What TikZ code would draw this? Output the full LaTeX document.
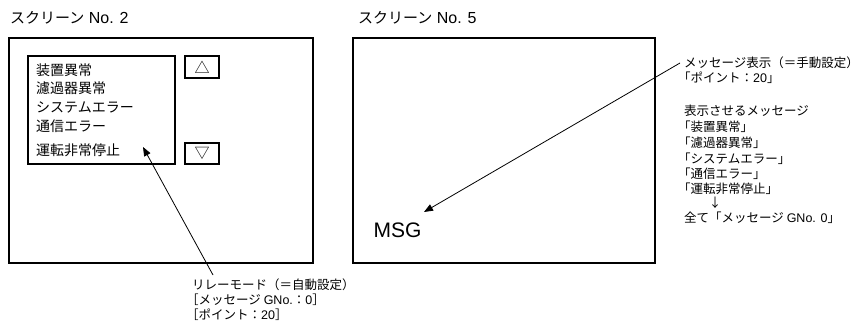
\documentclass[tikz,border=0pt]{standalone}
\usepackage{fontspec}
\setmainfont{Liberation Sans}
\newfontfamily\jp{Noto Sans CJK JP}
\usetikzlibrary{arrows.meta}
\begin{document}
\begin{tikzpicture}[x=1pt,y=-1pt,
  box/.style={draw, line width=1.8pt, inner sep=0pt, outer sep=0pt},
  t/.style={inner sep=0pt, anchor=base west},
  ttl/.style={t, font=\fontsize{16}{16}\selectfont},
  jl/.style={t, font=\fontsize{14}{14}\selectfont\jp},
  note/.style={t, font=\fontsize{12.5}{12.5}\selectfont},
  btnmark/.style={font=\fontsize{15}{15}\selectfont\jp},
  arr/.style={line width=0.8pt, -{Triangle[length=9pt,width=7pt]}}]
\useasboundingbox (0,0) rectangle (862,326);

% titles
\node[ttl] (title2) at (10,23.5) {{\jp\fontsize{15}{15}\selectfont スクリーン} No. 2};
\node[ttl] (title5) at (358,23.5) {{\jp\fontsize{15}{15}\selectfont スクリーン} No. 5};

% screen 2
\node[box, minimum width=304pt, minimum height=225pt] (scr2) at (161,150.5) {};
\node[box, minimum width=147pt, minimum height=108pt] (list) at (101.5,110) {};
\node[box, btnmark, minimum width=34pt, minimum height=22pt] (up) at (202,67) {△};
\node[box, btnmark, minimum width=34pt, minimum height=21pt] (down) at (202,153.5) {▽};
\node[jl] (i1) at (36,75.3) {装置異常};
\node[jl] (i2) at (36,93.3) {濾過器異常};
\node[jl] (i3) at (36,112.3) {システムエラー};
\node[jl] (i4) at (36,131.3) {通信エラー};
\node[jl] (i5) at (36,155.3) {運転非常停止};

% screen 5
\node[box, minimum width=302pt, minimum height=225pt] (scr5) at (504,150.5) {};
\node[t, font=\fontsize{21}{21}\selectfont] (msg) at (373.5,237) {MSG};

% notes right
\node[note] (r1) at (684,67.75) {\jp メッセージ表示（＝手動設定）};
\node[note] (r2) at (678,82.25) {{\jp 「ポイント：}20{\jp 」}};
\node[note] (r3) at (684,115.75) {\jp 表示させるメッセージ};
\node[note] (r4) at (678,131.75) {\jp 「装置異常」};
\node[note] (r5) at (678,147.75) {\jp 「濾過器異常」};
\node[note] (r6) at (678,163.75) {\jp 「システムエラー」};
\node[note] (r7) at (678,178.75) {\jp 「通信エラー」};
\node[note] (r8) at (678,193.75) {\jp 「運転非常停止」};
\node[inner sep=0pt, font=\fontsize{12.5}{12.5}\selectfont\jp] (dn) at (715,203) {↓};
\node[note] (r9) at (684,222.75) {{\jp 全て「メッセージ }GNo. 0{\jp 」}};

% notes bottom
\node[note] (b1) at (192,289.75) {\jp リレーモード（＝自動設定）};
\node[note] (b2) at (186,304.75) {{\jp ［メッセージ }GNo.{\jp ：}0{\jp ］}};
\node[note] (b3) at (186,319.75) {{\jp ［ポイント：}20{\jp ］}};

% connectors
\coordinate (p2) at (213,275);
\coordinate (tip2) at (143,147);
\draw[arr] (p2) -- (tip2);
\coordinate (p5) at (680,63);
\coordinate (tip5) at (424,212);
\draw[arr] (p5) -- (tip5);
\end{tikzpicture}
\end{document}
